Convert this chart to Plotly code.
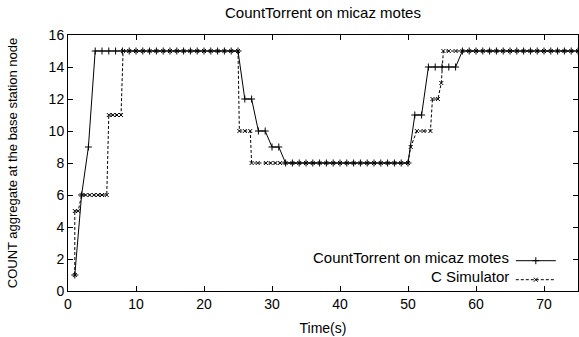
import plotly.graph_objects as go

# CountTorrent on micaz motes (solid, "+" markers)
mote_t = [1, 2, 3, 4, 5, 6, 7, 8, 9, 10, 11, 12, 13, 14, 15, 16, 17, 18, 19, 20,
          21, 22, 23, 24, 25, 26, 27, 28, 29, 30, 31, 32, 33, 34, 35, 36, 37, 38, 39, 40,
          41, 42, 43, 44, 45, 46, 47, 48, 49, 50, 51, 52, 53, 54, 55, 56, 57, 58, 59, 60,
          61, 62, 63, 64, 65, 66, 67, 68, 69, 70, 71, 72, 73, 74, 75]
mote_v = [1, 6, 9, 15, 15, 15, 15, 15, 15, 15, 15, 15, 15, 15, 15, 15, 15, 15, 15, 15,
          15, 15, 15, 15, 15, 12, 12, 10, 10, 9, 9, 8, 8, 8, 8, 8, 8, 8, 8, 8,
          8, 8, 8, 8, 8, 8, 8, 8, 8, 8, 11, 11, 14, 14, 14, 14, 14, 15, 15, 15,
          15, 15, 15, 15, 15, 15, 15, 15, 15, 15, 15, 15, 15, 15, 15]

# C Simulator (dashed, "x" markers)
sim_t = [1, 1, 1.5, 2, 2.6, 3.2, 3.8, 4.4, 5, 5.7, 6, 6.6, 7.2, 7.8, 8.1, 9, 10, 11, 12, 13,
         14, 15, 16, 17, 18, 19, 20, 21, 22, 23, 24, 25, 25.2, 26, 26.8, 27, 27.9, 29.1, 29.8, 30.5,
         31.2, 32, 33, 34, 35, 36, 37, 38, 39, 40, 41, 42, 43, 44, 45, 46, 47, 48, 49, 50,
         50.4, 51.3, 52.3, 53.3, 53.6, 54.4, 54.9, 55.2, 56, 57, 58, 59, 60, 61, 62, 63, 64, 65, 66, 67,
         68, 69, 70, 71, 72, 73, 74, 75]
sim_v = [1, 5, 5, 6, 6, 6, 6, 6, 6, 6, 11, 11, 11, 11, 15, 15, 15, 15, 15, 15,
         15, 15, 15, 15, 15, 15, 15, 15, 15, 15, 15, 15, 10, 10, 10, 8, 8, 8, 8, 8,
         8, 8, 8, 8, 8, 8, 8, 8, 8, 8, 8, 8, 8, 8, 8, 8, 8, 8, 8, 8,
         9, 10, 10, 10, 12, 12, 13, 15, 15, 15, 15, 15, 15, 15, 15, 15, 15, 15, 15, 15,
         15, 15, 15, 15, 15, 15, 15, 15]

series_names = ["CountTorrent on micaz motes", "C Simulator"]
x_ticks = [0, 10, 20, 30, 40, 50, 60, 70]
y_ticks = [0, 2, 4, 6, 8, 10, 12, 14, 16]

FONT = "Liberation Sans, Arial, Helvetica, sans-serif"

fig = go.Figure()
fig.add_trace(go.Scatter(
    x=mote_t, y=mote_v, mode="lines+markers", name="",
    line=dict(color="black", width=1),
    marker=dict(symbol="cross-thin", size=5, color="black",
                line=dict(color="black", width=1)),
))
fig.add_trace(go.Scatter(
    x=sim_t, y=sim_v, mode="lines+markers", name=" ",
    line=dict(color="black", width=1, dash="3px,2px"),
    marker=dict(symbol="x-thin", size=4, color="black",
                line=dict(color="black", width=1)),
))

axis_common = dict(
    showgrid=False, zeroline=False, showline=True, linecolor="black", linewidth=1,
    mirror="ticks", ticks="inside", ticklen=5, tickcolor="black", tickwidth=1,
    tickfont=dict(family=FONT, size=14, color="black"), automargin=False,
)
fig.update_xaxes(range=[0, 75], tickvals=x_ticks,
                 title=dict(text="Time(s)", font=dict(family=FONT, size=14, color="black"), standoff=12),
                 **axis_common)
fig.update_yaxes(range=[0, 16], tickvals=y_ticks,
                 title=dict(text="COUNT aggregate at the base station node",
                            font=dict(family=FONT, size=13, color="black"), standoff=28),
                 **axis_common)

fig.update_layout(
    width=579, height=337,
    margin=dict(l=68, r=1, t=35, b=46),
    paper_bgcolor="white", plot_bgcolor="white",
    title=dict(text="CountTorrent on micaz motes", x=0.5, xref="paper", y=0.962, yanchor="middle",
               font=dict(family=FONT, size=15, color="black")),
    showlegend=True,
    legend=dict(x=0.982, y=0.175, xanchor="right", yanchor="top",
                bgcolor="rgba(0,0,0,0)", borderwidth=0, tracegroupgap=0,
                font=dict(family=FONT, size=8, color="black"), itemwidth=40),
    annotations=[
        dict(text=series_names[0], xref="paper", yref="paper", x=0.868, y=0.129,
             xanchor="right", yanchor="middle", showarrow=False,
             font=dict(family=FONT, size=15, color="black")),
        dict(text=series_names[1], xref="paper", yref="paper", x=0.868, y=0.058,
             xanchor="right", yanchor="middle", showarrow=False,
             font=dict(family=FONT, size=15, color="black")),
    ],
)

fig.write_html("out.html", config={"displayModeBar": False},
               post_script="document.body.style.margin='0';")
